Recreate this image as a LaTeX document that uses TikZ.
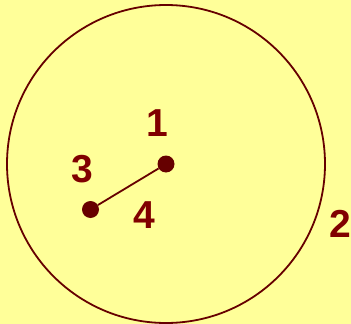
\documentclass[tikz,border=0pt]{standalone}
\usepackage{fontspec}
\setmainfont{Liberation Sans}
\definecolor{bg}{RGB}{255,255,153}
\definecolor{lab}{RGB}{128,0,0}
\definecolor{ink}{RGB}{102,0,0}
\begin{document}
\begin{tikzpicture}[x=1pt,y=-1pt,
  lbl/.style={inner sep=0pt,text=lab,font=\fontsize{39}{39}\selectfont\bfseries},
  dot/.style={circle,fill=ink,inner sep=0pt,minimum size=17pt}]
\fill[bg] (0,0) rectangle (351,324);
\useasboundingbox (0,0) rectangle (351,324);
\node[circle,draw=ink,line width=1.8pt,minimum size=318pt,inner sep=0pt] (c) at (166,164) {};
\node[dot] (p1) at (166,164) {};
\node[dot] (p3) at (90.5,209.5) {};
\draw[ink,line width=1.8pt] (p1) -- (p3);
\node[lbl] (l1) at (157.5,123) {1};
\node[lbl] (l3) at (82.5,169) {3};
\node[lbl] (l4) at (144,215) {4};
\node[lbl] (l2) at (340,224) {2};
\end{tikzpicture}
\end{document}
